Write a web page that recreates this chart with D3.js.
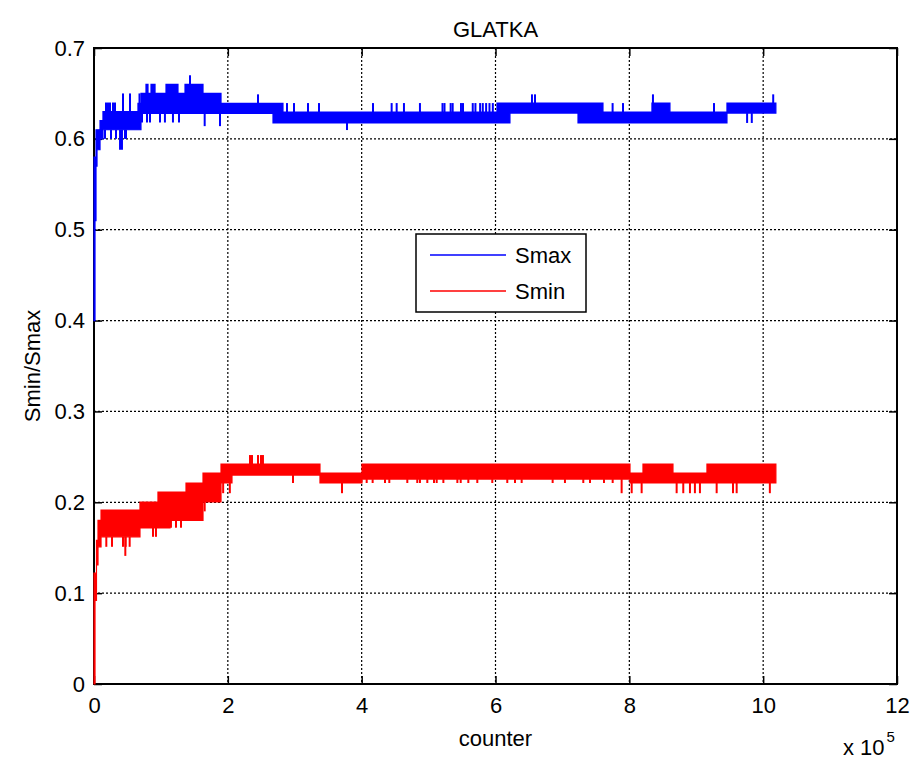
<!DOCTYPE html>
<html>
<head>
<meta charset="utf-8">
<script src="https://cdn.jsdelivr.net/npm/d3@7"></script>
<style>
  body { margin: 0; background: #fff; }
  svg text { font-family: "Liberation Sans", Arial, sans-serif; fill: #000; }
</style>
</head>
<body>
<div id="chart"></div>
<script>
// counter is in units of 1e5
var xTicks = [0, 2, 4, 6, 8, 10, 12];
var yTicks = [0, 0.1, 0.2, 0.3, 0.4, 0.5, 0.6, 0.7];
var yTickLabels = ["0", "0.1", "0.2", "0.3", "0.4", "0.5", "0.6", "0.7"];

// Smax: [counter start, upper level, lower level] of the band the signal flickers in
var smaxBand = [
  [0.000, 0.58, 0.40], [0.015, 0.58, 0.51], [0.030, 0.61, 0.57], [0.045, 0.61, 0.588],
  [0.090, 0.62, 0.60], [0.134, 0.63, 0.61], [0.657, 0.639, 0.61], [0.702, 0.65, 0.628],
  [0.777, 0.66, 0.628], [0.807, 0.65, 0.628], [0.852, 0.66, 0.628], [0.912, 0.65, 0.628],
  [1.076, 0.66, 0.628], [1.255, 0.65, 0.628], [1.360, 0.66, 0.628], [1.629, 0.65, 0.628],
  [1.898, 0.639, 0.628], [2.675, 0.639, 0.6175], [2.824, 0.6295, 0.6175], [6.022, 0.6394, 0.6175],
  [6.216, 0.6394, 0.6284], [7.233, 0.6394, 0.6175], [7.606, 0.6295, 0.6175], [8.338, 0.6394, 0.6175],
  [8.607, 0.6295, 0.6175], [9.459, 0.6394, 0.6284], [10.19, 0.6394, 0.6284]
];
// Smax spikes: [counter, value]
var smaxSpike = [
  [0.179, 0.64], [0.209, 0.64], [0.239, 0.64], [0.284, 0.64], [0.314, 0.64],
  [0.164, 0.60], [0.254, 0.60], [0.329, 0.60], [0.389, 0.588], [0.418, 0.588], [0.463, 0.60], [0.478, 0.60],
  [0.433, 0.65], [0.538, 0.65], [0.68, 0.65], [1.435, 0.67],
  [0.717, 0.618], [0.792, 0.618], [0.837, 0.618], [0.986, 0.618], [1.06, 0.618], [1.180, 0.618],
  [1.27, 0.618], [1.654, 0.614], [1.883, 0.614],
  [2.451, 0.649], [2.720, 0.6175],
  [2.884, 0.6394], [2.989, 0.6394], [3.198, 0.6394], [3.362, 0.6394], [3.781, 0.6097],
  [4.169, 0.6394], [4.448, 0.6394], [4.523, 0.6394], [4.632, 0.6394], [4.871, 0.6394],
  [5.208, 0.6394], [5.238, 0.6394], [5.330, 0.6394], [5.360, 0.6394], [5.484, 0.6394], [5.514, 0.6394],
  [5.66, 0.6394], [5.70, 0.6394], [5.77, 0.6394], [5.81, 0.6394], [5.86, 0.6394], [5.91, 0.6394], [5.96, 0.6394],
  [6.545, 0.649], [6.59, 0.649], [7.75, 0.6394], [7.905, 0.6394], [8.353, 0.649],
  [9.265, 0.6394], [9.76, 0.6175], [9.83, 0.6175], [10.15, 0.649]
];

// Smin
var sminBand = [
  [0.000, 0.122, 0.000], [0.015, 0.122, 0.092], [0.037, 0.158, 0.131], [0.060, 0.180, 0.151],
  [0.105, 0.1915, 0.162], [0.687, 0.2003, 0.1717], [0.956, 0.2113, 0.1717], [1.136, 0.2113, 0.180],
  [1.375, 0.2212, 0.180], [1.629, 0.2322, 0.2003], [1.898, 0.2421, 0.2212], [2.062, 0.2421, 0.230],
  [3.377, 0.2322, 0.2212], [4.005, 0.2421, 0.2255], [8.010, 0.2322, 0.2212], [8.204, 0.2421, 0.2212],
  [8.652, 0.2322, 0.2212], [9.160, 0.2421, 0.2212], [10.19, 0.2421, 0.2212]
];
var sminSpike = [
  [0.184, 0.151], [0.269, 0.151], [0.433, 0.151], [0.473, 0.151], [0.533, 0.151], [0.468, 0.141],
  [0.882, 0.162], [0.926, 0.162], [1.15, 0.172], [1.225, 0.172], [1.300, 0.172], [1.654, 0.190],
  [1.930, 0.210], [2.030, 0.210],
  [2.331, 0.252], [2.361, 0.252], [2.451, 0.252], [2.496, 0.252], [2.525, 0.252],
  [2.974, 0.2212], [3.706, 0.210],
  [4.075, 0.2212], [4.164, 0.2212], [4.349, 0.2212], [4.413, 0.2212], [4.682, 0.2212], [4.831, 0.2212],
  [4.871, 0.2212], [4.981, 0.2212], [5.081, 0.2212], [5.121, 0.2212], [5.221, 0.2212], [5.430, 0.2212],
  [5.480, 0.2212], [5.594, 0.2212], [5.728, 0.2212], [5.952, 0.2212], [6.176, 0.2212], [6.291, 0.2212],
  [6.391, 0.2212], [6.854, 0.2212], [7.038, 0.2212], [7.312, 0.2212], [7.412, 0.2212], [7.621, 0.2212],
  [7.751, 0.2212], [7.885, 0.210], [8.035, 0.210], [8.184, 0.210],
  [8.707, 0.210], [8.806, 0.210], [8.906, 0.210], [8.98, 0.210], [9.055, 0.210], [9.305, 0.210],
  [9.549, 0.210], [9.604, 0.210], [10.10, 0.210]
];

var W = 914, H = 762;
var mLeft = 94, mRight = 897, mTop = 48, mBottom = 684;
var fs = 22;

var svg = d3.select("#chart").append("svg").attr("width", W).attr("height", H);

var x = d3.scaleLinear().domain([0, 12]).range([mLeft, mRight]);
var y = d3.scaleLinear().domain([0, 0.7]).range([mBottom, mTop]);

// grid
var grid = svg.append("g").attr("stroke", "#000").attr("stroke-width", 1.2).attr("stroke-dasharray", "2,2");
grid.selectAll(".gx").data(xTicks.slice(1, -1)).enter().append("line")
  .attr("x1", d => x(d)).attr("x2", d => x(d)).attr("y1", mTop).attr("y2", mBottom);
grid.selectAll(".gy").data(yTicks.slice(1, -1)).enter().append("line")
  .attr("x1", mLeft).attr("x2", mRight).attr("y1", d => y(d)).attr("y2", d => y(d));

// axes
var gx = svg.append("g").attr("transform", "translate(0," + mBottom + ")")
  .call(d3.axisBottom(x).tickValues(xTicks).tickSize(-8).tickPadding(13));
var gy = svg.append("g").attr("transform", "translate(" + mLeft + ",0)")
  .call(d3.axisLeft(y).tickValues(yTicks).tickFormat((d, i) => yTickLabels[i]).tickSize(-8).tickPadding(9));
var gx2 = svg.append("g").attr("transform", "translate(0," + mTop + ")")
  .call(d3.axisTop(x).tickValues(xTicks).tickSize(-8).tickFormat(""));
var gy2 = svg.append("g").attr("transform", "translate(" + mRight + ",0)")
  .call(d3.axisRight(y).tickValues(yTicks).tickSize(-8).tickFormat(""));
[gx, gy, gx2, gy2].forEach(function (g) {
  g.select(".domain").remove();
  g.selectAll(".tick line").attr("stroke", "#000").attr("stroke-width", 1.5);
  g.selectAll(".tick text").attr("font-size", fs).attr("font-family", "Liberation Sans, Arial, sans-serif").attr("fill", "#000");
});

svg.append("rect")
  .attr("x", mLeft).attr("y", mTop).attr("width", mRight - mLeft).attr("height", mBottom - mTop)
  .attr("fill", "none").attr("stroke", "#000").attr("stroke-width", 2);

function drawSeries(band, spikes, color) {
  var area = d3.area()
    .x(d => x(d[0]))
    .y0(d => y(d[2]))
    .y1(d => y(d[1]))
    .curve(d3.curveStepAfter);
  svg.append("path").datum(band)
    .attr("d", area)
    .attr("fill", color)
    .attr("stroke", color)
    .attr("stroke-width", 1.2);

  var bis = d3.bisector(d => d[0]).right;
  svg.append("g").selectAll("line").data(spikes).enter().append("line")
    .attr("x1", d => x(d[0])).attr("x2", d => x(d[0]))
    .attr("y1", function (d) {
      var b = band[Math.max(0, bis(band, d[0]) - 1)];
      return d[1] > b[1] ? y(b[1]) : y(b[2]);
    })
    .attr("y2", d => y(d[1]))
    .attr("stroke", color)
    .attr("stroke-width", 2);
}

drawSeries(smaxBand, smaxSpike, "#0000ff");
drawSeries(sminBand, sminSpike, "#ff0000");

// legend
var lg = svg.append("g");
lg.append("rect").attr("x", 416).attr("y", 234).attr("width", 170).attr("height", 78)
  .attr("fill", "#fff").attr("stroke", "#000").attr("stroke-width", 1.5);
var legendItems = [["Smax", "#0000ff"], ["Smin", "#ff0000"]];
legendItems.forEach(function (it, i) {
  var ly = 255 + i * 36;
  lg.append("line").attr("x1", 430).attr("x2", 506).attr("y1", ly).attr("y2", ly)
    .attr("stroke", it[1]).attr("stroke-width", 1.5);
  lg.append("text").attr("x", 515).attr("y", ly + 8).attr("font-size", fs).text(it[0]);
});

// labels
svg.append("text").attr("x", (mLeft + mRight) / 2).attr("y", 37).attr("text-anchor", "middle")
  .attr("font-size", fs).text("GLATKA");
svg.append("text").attr("x", (mLeft + mRight) / 2).attr("y", 746).attr("text-anchor", "middle")
  .attr("font-size", fs).text("counter");
svg.append("text").attr("transform", "translate(40,366) rotate(-90)").attr("text-anchor", "middle")
  .attr("font-size", fs).text("Smin/Smax");
var ex = svg.append("text").attr("x", 843).attr("y", 755).attr("font-size", fs);
ex.append("tspan").text("x 10");
ex.append("tspan").attr("font-size", 15).attr("dy", -13).attr("dx", 2).text("5");
</script>
</body>
</html>
